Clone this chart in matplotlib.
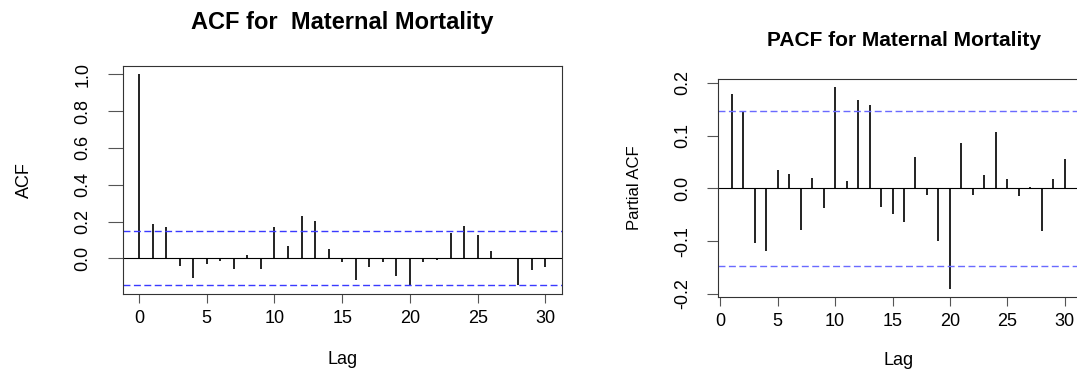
"""ACF / PACF plots for the maternal mortality series (R-style correlograms)."""

import matplotlib
matplotlib.use("Agg")
import matplotlib.pyplot as plt
import numpy as np

plt.rcParams["font.family"] = ["Liberation Sans", "DejaVu Sans"]
plt.rcParams["axes.unicode_minus"] = False

# --- data ---
acf_lags = list(range(0, 31))
acf_vals = [1.0, 0.184, 0.173, -0.044, -0.107, -0.029, -0.015, -0.055, 0.020, -0.055,
            0.173, 0.065, 0.231, 0.205, 0.049, -0.018, -0.115, -0.045, -0.020, -0.093,
            -0.149, -0.020, -0.011, 0.136, 0.178, 0.125, 0.040, 0.002, -0.142, -0.062,
            -0.045]

pacf_lags = list(range(1, 31))
pacf_vals = [0.179, 0.144, -0.103, -0.118, 0.035, 0.028, -0.079, 0.019, -0.037, 0.192,
             0.014, 0.167, 0.158, -0.035, -0.049, -0.063, 0.060, -0.013, -0.100, -0.190,
             0.085, -0.013, 0.026, 0.107, 0.018, -0.014, 0.003, -0.081, 0.018, 0.055]

conf_limit = 0.146

acf_yticks = [0.0, 0.2, 0.4, 0.6, 0.8, 1.0]
pacf_yticks = [-0.2, -0.1, 0.0, 0.1, 0.2]
lag_ticks = [0, 5, 10, 15, 20, 25, 30]

W, H = 1077, 369


def px_axes(fig, left, top, right, bottom):
    return fig.add_axes([left / W, 1 - bottom / H, (right - left) / W, (bottom - top) / H])


def style(ax, yticks, line_color, ylen, ypad):
    for s in ax.spines.values():
        s.set_color("#333333")
        s.set_linewidth(0.8)
    ax.set_xticks(lag_ticks)
    ax.set_yticks(yticks)
    ax.set_yticklabels([f"{v:.1f}" for v in yticks], rotation=90, va="center")
    ax.tick_params(axis="x", length=6.5, width=0.8, color="#555555", pad=5,
                   labelsize=13)
    ax.tick_params(axis="y", length=ylen, width=0.8, color="#555555", pad=ypad,
                   labelsize=13)
    ax.axhline(0, color="black", linewidth=0.8)
    ax.axhline(conf_limit, color=line_color, linewidth=1.0, dashes=(5, 2.5))
    ax.axhline(-conf_limit, color=line_color, linewidth=1.0, dashes=(5, 2.5))


fig = plt.figure(figsize=(W / 100, H / 100), dpi=100, facecolor="white")

# ACF panel
ax1 = px_axes(fig, 122.7, 65.7, 561.7, 294.3)
ax1.vlines(acf_lags, 0, acf_vals, color="#111111", linewidth=1.3)
ax1.set_xlim(-1.2, 31.2)
ax1.set_ylim(-0.195, 1.046)
style(ax1, acf_yticks, "#3a3aff", 10.5, 12)
ax1.set_ylabel("ACF", fontsize=13)
ax1.set_xlabel("Lag", fontsize=13)
ax1.yaxis.set_label_coords(-0.2248, 0.5)
ax1.xaxis.set_label_coords(0.5, -0.2874)
ax1.yaxis.label.set_va("center")
ax1.xaxis.label.set_va("center")

# PACF panel (right frame runs off the image)
ax2 = px_axes(fig, 717.7, 79.0, 1078.5, 296.7)
ax2.vlines(pacf_lags, 0, pacf_vals, color="#111111", linewidth=1.3)
ax2.set_xlim(-0.23, 31.2)
ax2.set_ylim(-0.205, 0.207)
style(ax2, pacf_yticks, "#6a6aff", 8, 11)
ax2.set_ylabel("Partial ACF", fontsize=12)
ax2.set_xlabel("Lag", fontsize=13)
ax2.yaxis.set_label_coords(-0.2297, 0.5)
ax2.xaxis.set_label_coords(0.5, -0.2908)
ax2.yaxis.label.set_va("center")
ax2.xaxis.label.set_va("center")

fig.text(342 / W, 1 - 22 / H, "ACF for  Maternal Mortality", ha="center", va="center",
         fontsize=17, fontweight="bold")
fig.text(904 / W, 1 - 40 / H, "PACF for Maternal Mortality", ha="center", va="center",
         fontsize=15, fontweight="bold")

fig.savefig("out.png", dpi=100, facecolor="white")
plt.close(fig)
